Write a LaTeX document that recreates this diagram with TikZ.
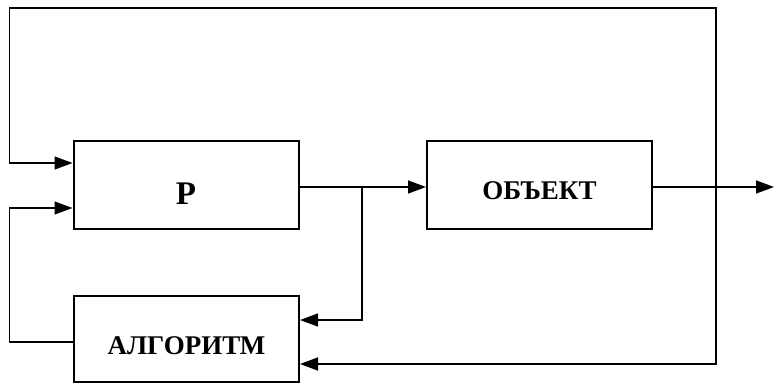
\documentclass[tikz,border=0pt]{standalone}
\usepackage{fontspec}
\setmainfont{Liberation Serif}
\usetikzlibrary{arrows.meta}
\begin{document}
\begin{tikzpicture}[x=1pt,y=-1pt,
  blockbox/.style={draw,line width=2pt,inner sep=0pt,minimum width=225pt,anchor=south west,font=\bfseries\fontsize{27}{30}\selectfont},
  conn/.style={line width=1.5pt},
  arr/.style={conn,-{Triangle[length=18pt,width=13pt]}}]
\useasboundingbox (0,0) rectangle (775,385);
\node[blockbox,text height=63pt,text depth=25pt,font=\bfseries\fontsize{33}{36}\selectfont] (P) at (72.5,230) {Р};
\node[blockbox,text height=58pt,text depth=30pt] (O) at (426,230) {ОБЪЕКТ};
\node[blockbox,text height=58pt,text depth=28pt] (A) at (73,383) {АЛГОРИТМ};
\coordinate (br) at (362,187);
\coordinate (tap) at (716,187);
\coordinate (out) at (774,187);
\draw[arr] (P.east |- br) -- (O.west |- br);
\draw[arr] (O.east |- out) -- (out);
\draw[arr] (br) -- (362,320) -- (A.east |- 0,320);
\draw[arr] (tap) -- (716,8) -- (9.5,8) -- (9.5,163) -- (P.west |- 0,163);
\draw[arr] (tap) -- (716,364) -- (A.east |- 0,364);
\draw[arr] (A.west |- 0,342) -- (9.5,342) -- (9.5,208) -- (P.west |- 0,208);
\end{tikzpicture}
\end{document}
